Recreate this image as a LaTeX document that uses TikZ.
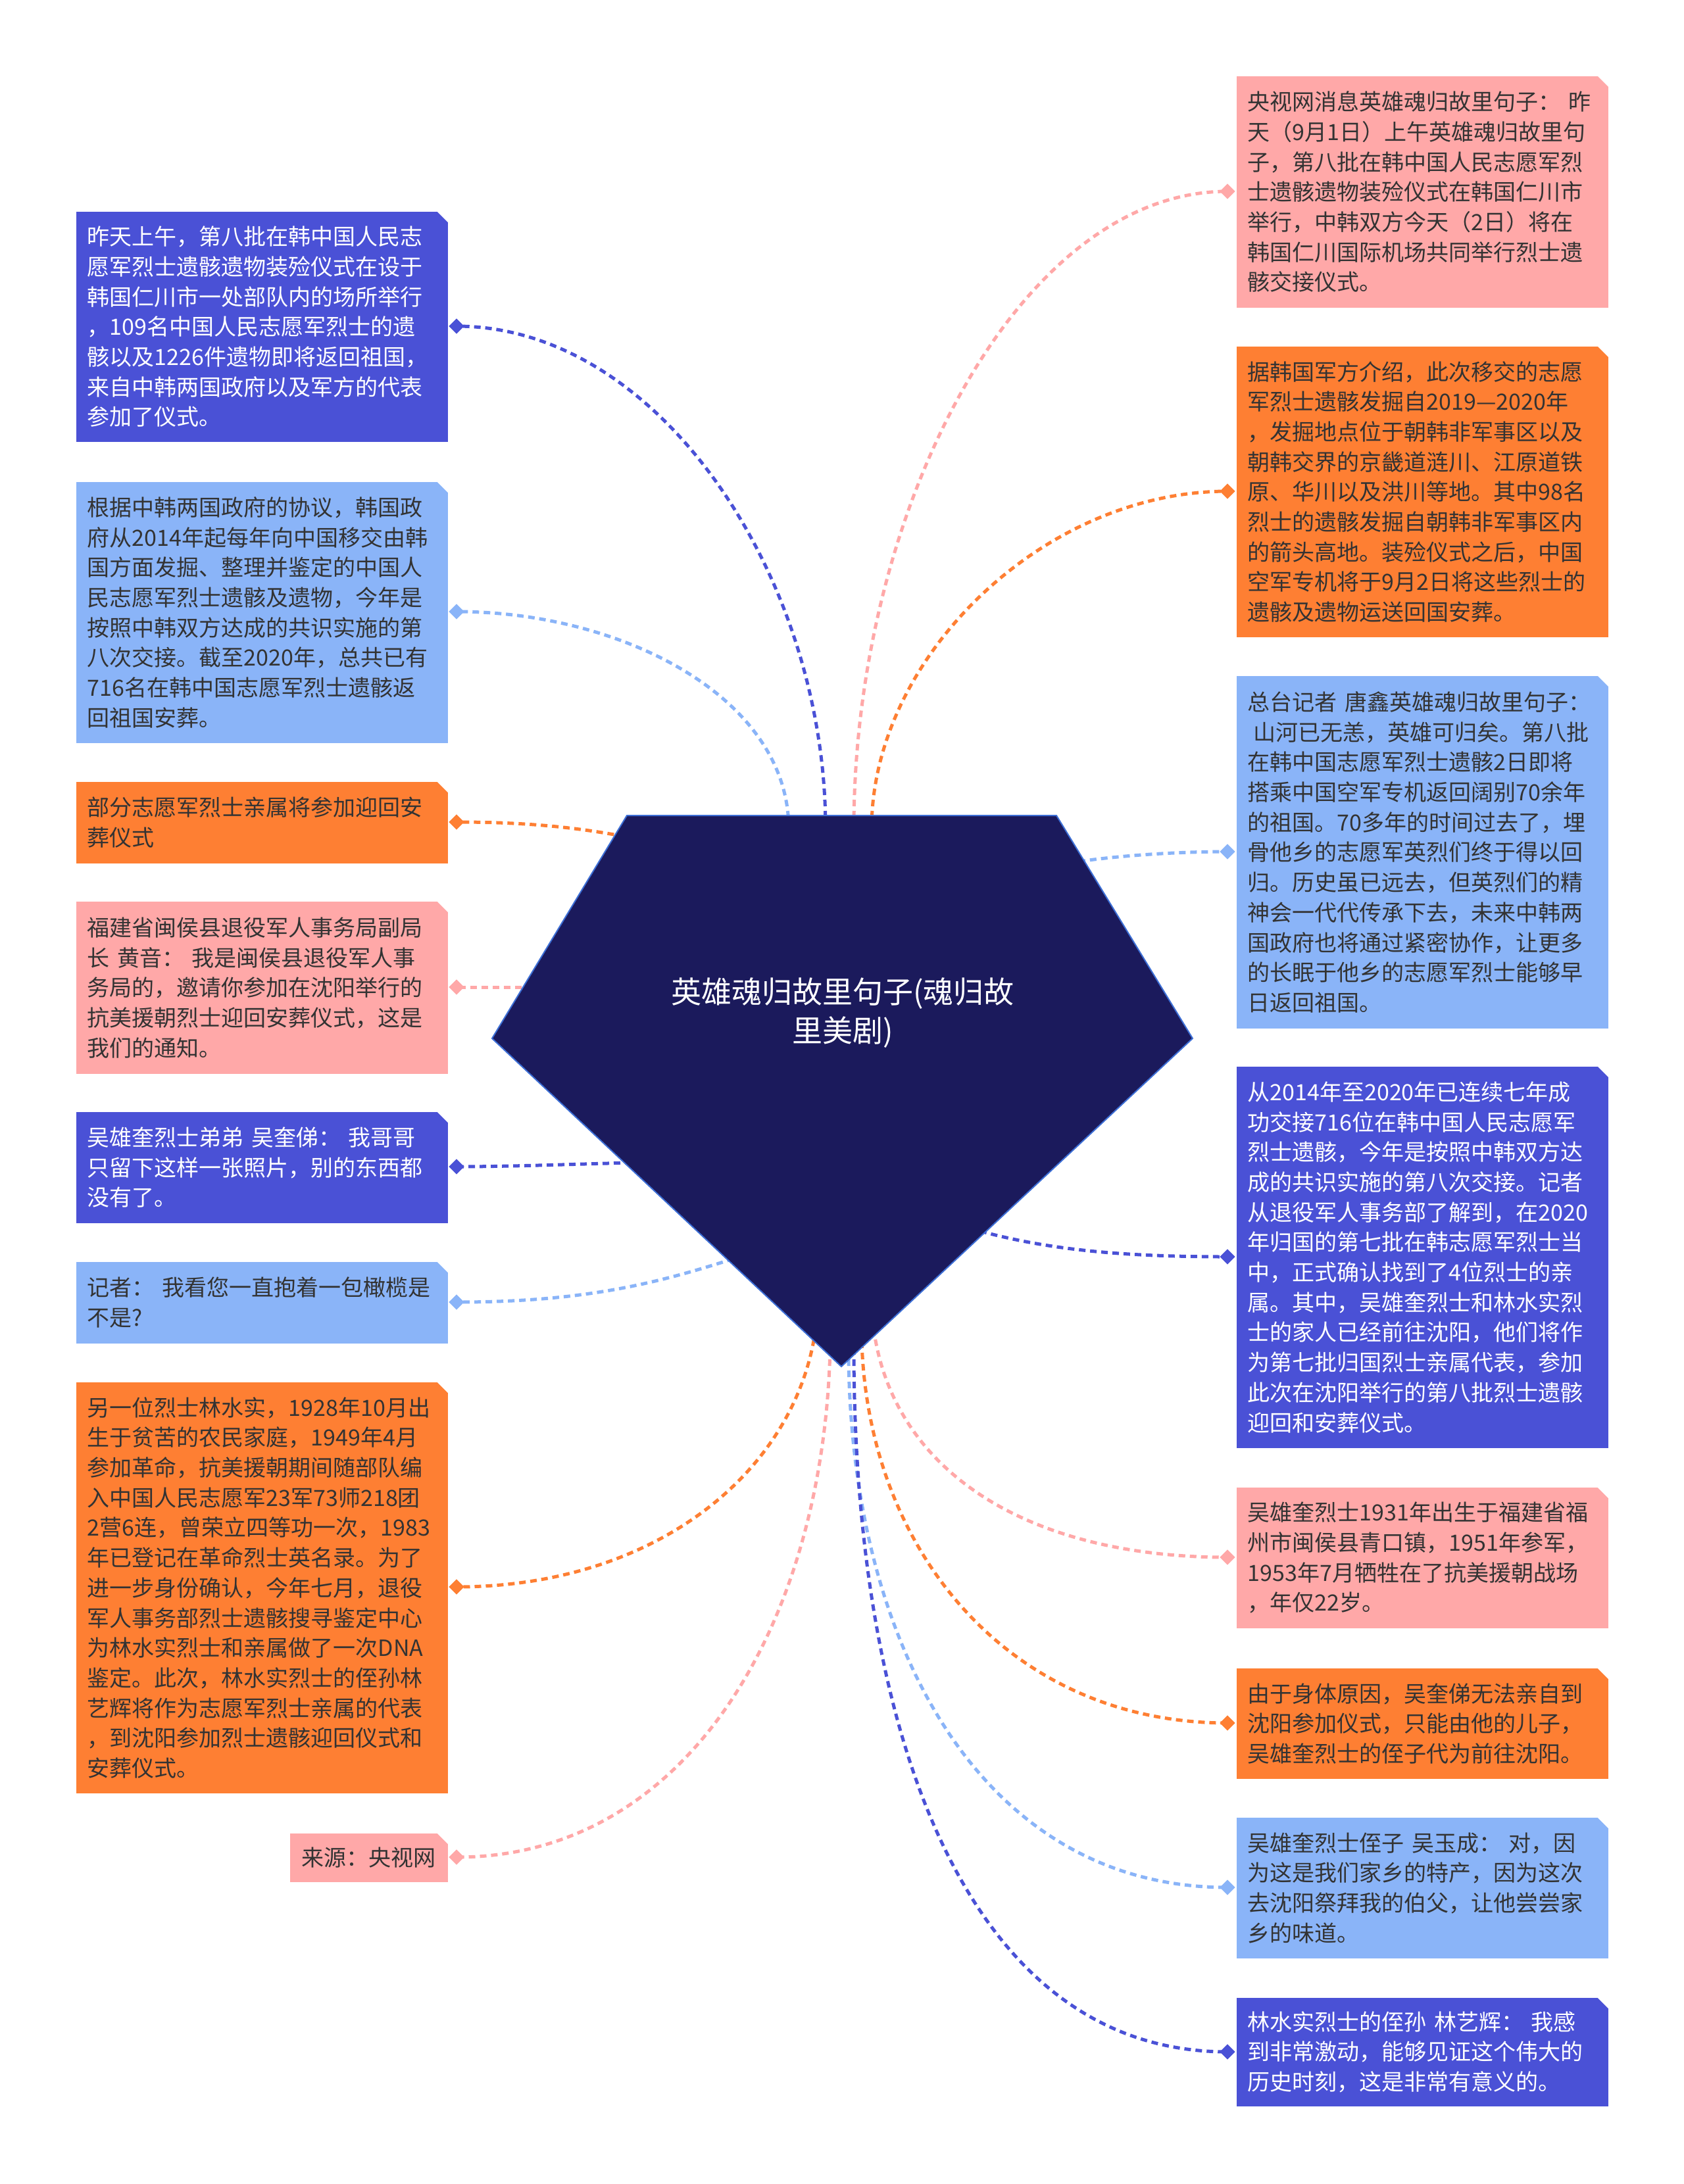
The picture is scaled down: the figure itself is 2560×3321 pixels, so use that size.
\documentclass[tikz,border=0pt]{standalone}
\usepackage{fontspec}
\setmainfont{Noto Sans CJK SC}
\usetikzlibrary{shapes.geometric,backgrounds}
\definecolor{cDB}{HTML}{4A51D6}
\definecolor{cLB}{HTML}{8AB4F8}
\definecolor{cOR}{HTML}{FE7F33}
\definecolor{cPK}{HTML}{FFA8A8}
\definecolor{cCT}{HTML}{1B1A5C}
\definecolor{cCTB}{HTML}{3D6FD6}
\definecolor{cTX}{HTML}{333333}
\begin{document}
\begin{tikzpicture}[x=0.25pt,y=-0.25pt,
  box/.style={rectangle, anchor=north west, inner xsep=4.25pt, inner ysep=0pt,
    minimum width=141.25pt, text width=132.75pt, align=left,
    font=\fontsize{8.5pt}{11.42pt}\selectfont,
    path picture={\fill[white] ([xshift=-4pt]path picture bounding box.north east)
      -- (path picture bounding box.north east) -- ([yshift=-4pt]path picture bounding box.north east) -- cycle;}},
  dkb/.style={box, fill=cDB, text=white},
  lbb/.style={box, fill=cLB, text=cTX},
  orb/.style={box, fill=cOR, text=cTX},
  pkb/.style={box, fill=cPK, text=cTX},
  dia/.style={diamond, minimum size=6pt, inner sep=0pt},
  conn/.style={line width=1.25pt, dash pattern=on 2.5pt off 1.75pt}
]
\useasboundingbox (0,0) rectangle (2560,3321);

% ---------- left boxes ----------
\node[dkb, minimum height=87.5pt] (L1) at (115,321) {昨天上午，第八批在韩中国人民志\\愿军烈士遗骸遗物装殓仪式在设于\\韩国仁川市一处部队内的场所举行\\，109名中国人民志愿军烈士的遗\\骸以及1226件遗物即将返回祖国，\\来自中韩两国政府以及军方的代表\\参加了仪式。};
\node[lbb, minimum height=99.25pt] (L2) at (115,732) {根据中韩两国政府的协议，韩国政\\府从2014年起每年向中国移交由韩\\国方面发掘、整理并鉴定的中国人\\民志愿军烈士遗骸及遗物，今年是\\按照中韩双方达成的共识实施的第\\八次交接。截至2020年，总共已有\\716名在韩中国志愿军烈士遗骸返\\回祖国安葬。};
\node[orb, minimum height=31pt] (L3) at (115,1188) {部分志愿军烈士亲属将参加迎回安\\葬仪式};
\node[pkb, minimum height=65.5pt] (L4) at (115,1370) {福建省闽侯县退役军人事务局副局\\长 黄音：  我是闽侯县退役军人事\\务局的，邀请你参加在沈阳举行的\\抗美援朝烈士迎回安葬仪式，这是\\我们的通知。};
\node[dkb, minimum height=42.25pt] (L5) at (115,1690) {吴雄奎烈士弟弟 吴奎俤：  我哥哥\\只留下这样一张照片，别的东西都\\没有了。};
\node[lbb, minimum height=31pt] (L6) at (115,1918) {记者：  我看您一直抱着一包橄榄是\\不是?};
\node[orb, minimum height=156.25pt] (L7) at (115,2101) {另一位烈士林水实，1928年10月出\\生于贫苦的农民家庭，1949年4月\\参加革命，抗美援朝期间随部队编\\入中国人民志愿军23军73师218团\\2营6连，曾荣立四等功一次，1983\\年已登记在革命烈士英名录。为了\\进一步身份确认，今年七月，退役\\军人事务部烈士遗骸搜寻鉴定中心\\为林水实烈士和亲属做了一次DNA\\鉴定。此次，林水实烈士的侄孙林\\艺辉将作为志愿军烈士亲属的代表\\，到沈阳参加烈士遗骸迎回仪式和\\安葬仪式。};
\node[pkb, text width=, minimum width=60pt, minimum height=18.5pt] (L8) at (440,2787) {来源：央视网};

% ---------- right boxes ----------
\node[pkb, minimum height=88pt] (R1) at (1879,115) {央视网消息英雄魂归故里句子：  昨\\天（9月1日）上午英雄魂归故里句\\子，第八批在韩中国人民志愿军烈\\士遗骸遗物装殓仪式在韩国仁川市\\举行，中韩双方今天（2日）将在\\韩国仁川国际机场共同举行烈士遗\\骸交接仪式。};
\node[orb, minimum height=110.5pt] (R2) at (1879,526) {据韩国军方介绍，此次移交的志愿\\军烈士遗骸发掘自2019—2020年\\，发掘地点位于朝韩非军事区以及\\朝韩交界的京畿道涟川、江原道铁\\原、华川以及洪川等地。其中98名\\烈士的遗骸发掘自朝韩非军事区内\\的箭头高地。装殓仪式之后，中国\\空军专机将于9月2日将这些烈士的\\遗骸及遗物运送回国安葬。};
\node[lbb, minimum height=134pt] (R3) at (1879,1027) {总台记者 唐鑫英雄魂归故里句子：\\\hspace*{0.25em}山河已无恙，英雄可归矣。第八批\\在韩中国志愿军烈士遗骸2日即将\\搭乘中国空军专机返回阔别70余年\\的祖国。70多年的时间过去了，埋\\骨他乡的志愿军英烈们终于得以回\\归。历史虽已远去，但英烈们的精\\神会一代代传承下去，未来中韩两\\国政府也将通过紧密协作，让更多\\的长眠于他乡的志愿军烈士能够早\\日返回祖国。};
\node[dkb, minimum height=145pt] (R4) at (1879,1621) {从2014年至2020年已连续七年成\\功交接716位在韩中国人民志愿军\\烈士遗骸，今年是按照中韩双方达\\成的共识实施的第八次交接。记者\\从退役军人事务部了解到，在2020\\年归国的第七批在韩志愿军烈士当\\中，正式确认找到了4位烈士的亲\\属。其中，吴雄奎烈士和林水实烈\\士的家人已经前往沈阳，他们将作\\为第七批归国烈士亲属代表，参加\\此次在沈阳举行的第八批烈士遗骸\\迎回和安葬仪式。};
\node[pkb, minimum height=53.5pt] (R5) at (1879,2261) {吴雄奎烈士1931年出生于福建省福\\州市闽侯县青口镇，1951年参军，\\1953年7月牺牲在了抗美援朝战场\\，年仅22岁。};
\node[orb, minimum height=42pt] (R6) at (1879,2536) {由于身体原因，吴奎俤无法亲自到\\沈阳参加仪式，只能由他的儿子，\\吴雄奎烈士的侄子代为前往沈阳。};
\node[lbb, minimum height=53.5pt] (R7) at (1879,2763) {吴雄奎烈士侄子 吴玉成：  对，因\\为这是我们家乡的特产，因为这次\\去沈阳祭拜我的伯父，让他尝尝家\\乡的味道。};
\node[dkb, minimum height=41.25pt] (R8) at (1879,3037) {林水实烈士的侄孙 林艺辉：  我感\\到非常激动，能够见证这个伟大的\\历史时刻，这是非常有意义的。};

% ---------- diamonds ----------
\node[dia, fill=cDB] (dL1) at (694,496) {};
\node[dia, fill=cLB] (dL2) at (694,930) {};
\node[dia, fill=cOR] (dL3) at (694,1250) {};
\node[dia, fill=cPK] (dL4) at (694,1501) {};
\node[dia, fill=cDB] (dL5) at (694,1774) {};
\node[dia, fill=cLB] (dL6) at (694,1980) {};
\node[dia, fill=cOR] (dL7) at (694,2413) {};
\node[dia, fill=cPK] (dL8) at (694,2824) {};
\node[dia, fill=cPK] (dR1) at (1866,291) {};
\node[dia, fill=cOR] (dR2) at (1866,747) {};
\node[dia, fill=cLB] (dR3) at (1866,1295) {};
\node[dia, fill=cDB] (dR4) at (1866,1911) {};
\node[dia, fill=cPK] (dR5) at (1866,2368) {};
\node[dia, fill=cOR] (dR6) at (1866,2620) {};
\node[dia, fill=cLB] (dR7) at (1866,2870) {};
\node[dia, fill=cDB] (dR8) at (1866,3120) {};

% ---------- central pentagon ----------
\coordinate (pTL) at (953,1240);
\coordinate (pTR) at (1606,1240);
\coordinate (pR) at (1813,1579);
\coordinate (pB) at (1279,2078);
\coordinate (pL) at (748,1579);
\fill[cCT, draw=cCTB, line width=0.5pt] (pTL) -- (pTR) -- (pR) -- (pB) -- (pL) -- cycle;
\node[text=white, align=center, font=\fontsize{11.5pt}{14.8pt}\selectfont] (center) at (1281,1540) {英雄魂归故里句子(魂归故\\里美剧)};

% connector start points on the pentagon
\coordinate (sL1) at (1255,1260);
\coordinate (sL2) at (1199,1260);
\coordinate (sL3) at (950,1272);
\coordinate (sL4) at (810,1501);
\coordinate (sL5) at (960,1768);
\coordinate (sL6) at (1115,1914);
\coordinate (sL7) at (1240,2020);
\coordinate (sL8) at (1262,2050);
\coordinate (sR1) at (1298,1260);
\coordinate (sR2) at (1325,1260);
\coordinate (sR3) at (1640,1310);
\coordinate (sR4) at (1490,1872);
\coordinate (sR5) at (1328,2020);
\coordinate (sR6) at (1310,2040);
\coordinate (sR7) at (1290,2050);
\coordinate (sR8) at (1298,2050);

\begin{pgfonlayer}{background}
\fill[white] (0,0) rectangle (2560,3321);
\draw[conn, cDB] (sL1) .. controls +(0,-380) and +(310,0) .. (dL1.center);
\draw[conn, cLB] (sL2) .. controls +(0,-200) and +(250,0) .. (dL2.center);
\draw[conn, cOR] (sL3) .. controls +(-80,-15) and +(100,0) .. (dL3.center);
\draw[conn, cPK] (sL4) -- (dL4.center);
\draw[conn, cDB] (sL5) .. controls +(-80,2) and +(80,0) .. (dL5.center);
\draw[conn, cLB] (sL6) .. controls +(-110,35) and +(200,0) .. (dL6.center);
\draw[conn, cOR] (sL7) .. controls +(-30,220) and +(300,0) .. (dL7.center);
\draw[conn, cPK] (sL8) .. controls +(-10,420) and +(350,0) .. (dL8.center);
\draw[conn, cPK] (sR1) .. controls +(0,-480) and +(-320,0) .. (dR1.center);
\draw[conn, cOR] (sR2) .. controls +(0,-260) and +(-280,0) .. (dR2.center);
\draw[conn, cLB] (sR3) .. controls +(70,-10) and +(-70,0) .. (dR3.center);
\draw[conn, cDB] (sR4) .. controls +(110,30) and +(-150,0) .. (dR4.center);
\draw[conn, cPK] (sR5) .. controls +(30,220) and +(-300,0) .. (dR5.center);
\draw[conn, cOR] (sR6) .. controls +(10,320) and +(-330,0) .. (dR6.center);
\draw[conn, cLB] (sR7) .. controls +(0,440) and +(-380,0) .. (dR7.center);
\draw[conn, cDB] (sR8) .. controls +(0,580) and +(-400,0) .. (dR8.center);
\end{pgfonlayer}
\end{tikzpicture}
\end{document}
